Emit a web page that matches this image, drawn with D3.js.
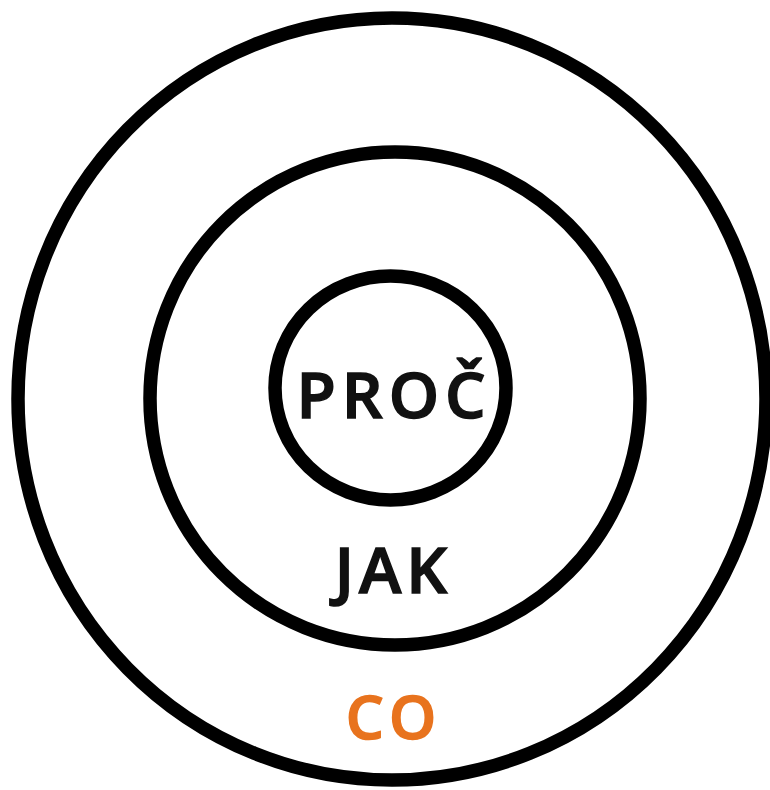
<!DOCTYPE html>
<html>
<head>
<meta charset="utf-8">
<script src="https://cdn.jsdelivr.net/npm/d3@7"></script>
<style>
  html, body { margin: 0; padding: 0; background: #fff; }
  svg { display: block; }
</style>
</head>
<body>
<svg id="chart" width="770" height="790"></svg>
<script>
// Levels of the golden circle, innermost first
const labels = ["PROČ", "JAK", "CO"];
const levels = [1, 2, 3];               // ring index
const labelColors = ["#111111", "#111111", "#e8731e"];

const svg = d3.select("#chart");
const W = 770, H = 790;

// Scales mapping ring index to ellipse radii
const rx = d3.scaleLinear().domain([1, 2, 3]).range([115.5, 245, 374]);
const ry = d3.scaleLinear().domain([1, 2, 3]).range([112, 246.5, 381]);
const cx = d3.scaleOrdinal().domain(levels).range([390.5, 395, 392]);
const cy = d3.scaleOrdinal().domain(levels).range([388, 398.5, 399]);

svg.append("rect").attr("width", W).attr("height", H).attr("fill", "#fff");

const g = svg.append("g");

g.selectAll("ellipse.ring")
  .data(levels)
  .join("ellipse")
  .attr("class", "ring")
  .attr("cx", d => cx(d))
  .attr("cy", d => cy(d))
  .attr("rx", d => rx(d))
  .attr("ry", d => ry(d))
  .attr("fill", "none")
  .attr("stroke", "#000")
  .attr("stroke-width", 13.5);

// Label positions: inner label at circle centre, others in the band between rings
const labelY = [393, 568, 716];
const labelSize = [64, 64, 60];
const labelSpacing = [6, 5, 5];

g.selectAll("text.lbl")
  .data(levels)
  .join("text")
  .attr("class", "lbl")
  .attr("x", (d, i) => 391 + labelSpacing[i] / 2)
  .attr("y", (d, i) => labelY[i])
  .attr("text-anchor", "middle")
  .attr("dominant-baseline", "central")
  .attr("font-family", "'Open Sans', sans-serif")
  .attr("font-weight", 600)
  .attr("font-size", (d, i) => labelSize[i])
  .attr("letter-spacing", (d, i) => labelSpacing[i])
  .attr("fill", (d, i) => labelColors[i])
  .attr("stroke", (d, i) => labelColors[i])
  .attr("stroke-width", 1.5)
  .text((d, i) => labels[i]);
</script>
</body>
</html>
